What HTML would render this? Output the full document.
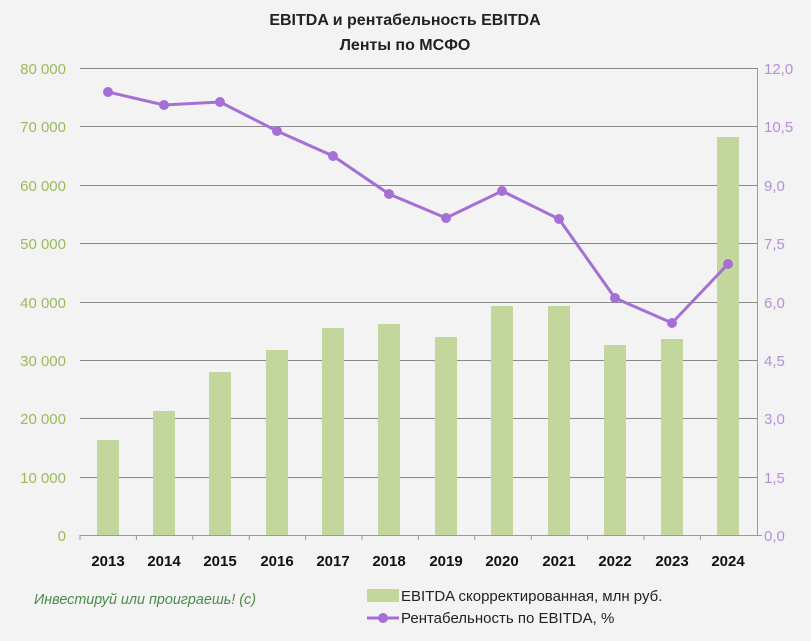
<!DOCTYPE html><html><head><meta charset="utf-8"><style>body{margin:0;background:#f3f3f3}svg{display:block}text{font-family:"Liberation Sans","DejaVu Sans",sans-serif}</style></head><body>
<svg width="811" height="641" viewBox="0 0 811 641" xmlns="http://www.w3.org/2000/svg">
<rect width="811" height="641" fill="#f3f3f3"/>
<text x="405" y="25" text-anchor="middle" font-size="16" font-weight="bold" fill="#222">EBITDA и рентабельность EBITDA</text>
<text x="405" y="50" text-anchor="middle" font-size="16" font-weight="bold" fill="#222">Ленты по МСФО</text>
<g stroke="#8a8a8a" stroke-width="1">
<line x1="80" x2="757" y1="68.5" y2="68.5"/><line x1="80" x2="757" y1="126.5" y2="126.5"/><line x1="80" x2="757" y1="185.5" y2="185.5"/><line x1="80" x2="757" y1="243.5" y2="243.5"/><line x1="80" x2="757" y1="302.5" y2="302.5"/><line x1="80" x2="757" y1="360.5" y2="360.5"/><line x1="80" x2="757" y1="418.5" y2="418.5"/><line x1="80" x2="757" y1="477.5" y2="477.5"/>
</g>
<g stroke="#9a9a9a"><line x1="80" x2="757" y1="535.5" y2="535.5"/><line x1="757.5" x2="757.5" y1="68" y2="535"/></g>
<g stroke="#9a9a9a">
<line x1="80" x2="80" y1="535" y2="540"/><line x1="136.4" x2="136.4" y1="535" y2="540"/><line x1="192.8" x2="192.8" y1="535" y2="540"/><line x1="249.2" x2="249.2" y1="535" y2="540"/><line x1="305.6" x2="305.6" y1="535" y2="540"/><line x1="362" x2="362" y1="535" y2="540"/><line x1="418.4" x2="418.4" y1="535" y2="540"/><line x1="474.8" x2="474.8" y1="535" y2="540"/><line x1="531.2" x2="531.2" y1="535" y2="540"/><line x1="587.6" x2="587.6" y1="535" y2="540"/><line x1="644" x2="644" y1="535" y2="540"/><line x1="700.4" x2="700.4" y1="535" y2="540"/><line x1="757" x2="762" y1="535.5" y2="535.5"/>
</g>
<g fill="#c3d69b">
<rect x="97" y="440" width="22" height="95"/><rect x="153" y="411" width="22" height="124"/><rect x="209" y="372" width="22" height="163"/><rect x="266" y="350" width="22" height="185"/><rect x="322" y="328" width="22" height="207"/><rect x="378" y="324" width="22" height="211"/><rect x="435" y="337" width="22" height="198"/><rect x="491" y="306" width="22" height="229"/><rect x="548" y="306" width="22" height="229"/><rect x="604" y="345" width="22" height="190"/><rect x="661" y="339" width="22" height="196"/><rect x="717" y="137" width="22" height="398"/>
</g>
<polyline fill="none" stroke="#a570d6" stroke-width="3" points="108,92 164,105 220,102 277,131 333,156 389,194 446,218 502,191 559,219 615,298 672,323 728,264"/>
<g fill="#a570d6"><circle cx="108" cy="92" r="5"/><circle cx="164" cy="105" r="5"/><circle cx="220" cy="102" r="5"/><circle cx="277" cy="131" r="5"/><circle cx="333" cy="156" r="5"/><circle cx="389" cy="194" r="5"/><circle cx="446" cy="218" r="5"/><circle cx="502" cy="191" r="5"/><circle cx="559" cy="219" r="5"/><circle cx="615" cy="298" r="5"/><circle cx="672" cy="323" r="5"/><circle cx="728" cy="264" r="5"/></g>
<g font-size="15" fill="#9bbb59" text-anchor="end">
<text x="66" y="74">80 000</text><text x="66" y="132">70 000</text><text x="66" y="191">60 000</text><text x="66" y="249">50 000</text><text x="66" y="308">40 000</text><text x="66" y="366">30 000</text><text x="66" y="424">20 000</text><text x="66" y="483">10 000</text><text x="66" y="541">0</text>
</g>
<g font-size="15" fill="#b48fd8">
<text x="764" y="74">12,0</text><text x="764" y="132">10,5</text><text x="764" y="191">9,0</text><text x="764" y="249">7,5</text><text x="764" y="308">6,0</text><text x="764" y="366">4,5</text><text x="764" y="424">3,0</text><text x="764" y="483">1,5</text><text x="764" y="541">0,0</text>
</g>
<g font-size="15" font-weight="bold" fill="#111" text-anchor="middle">
<text x="108" y="566">2013</text><text x="164" y="566">2014</text><text x="220" y="566">2015</text><text x="277" y="566">2016</text><text x="333" y="566">2017</text><text x="389" y="566">2018</text><text x="446" y="566">2019</text><text x="502" y="566">2020</text><text x="559" y="566">2021</text><text x="615" y="566">2022</text><text x="672" y="566">2023</text><text x="728" y="566">2024</text>
</g>
<text x="34" y="604" font-size="15" font-style="italic" fill="#4a8a4a" textLength="222" lengthAdjust="spacingAndGlyphs">Инвестируй или проиграешь! (с)</text>
<rect x="367" y="589" width="32" height="13" fill="#c3d69b"/>
<text x="401" y="601" font-size="15" fill="#222">EBITDA скорректированная, млн руб.</text>
<line x1="367" x2="399" y1="618" y2="618" stroke="#a570d6" stroke-width="3"/><circle cx="383" cy="618" r="5" fill="#a570d6"/>
<text x="401" y="623" font-size="15" fill="#222">Рентабельность по EBITDA, %</text>
</svg></body></html>
